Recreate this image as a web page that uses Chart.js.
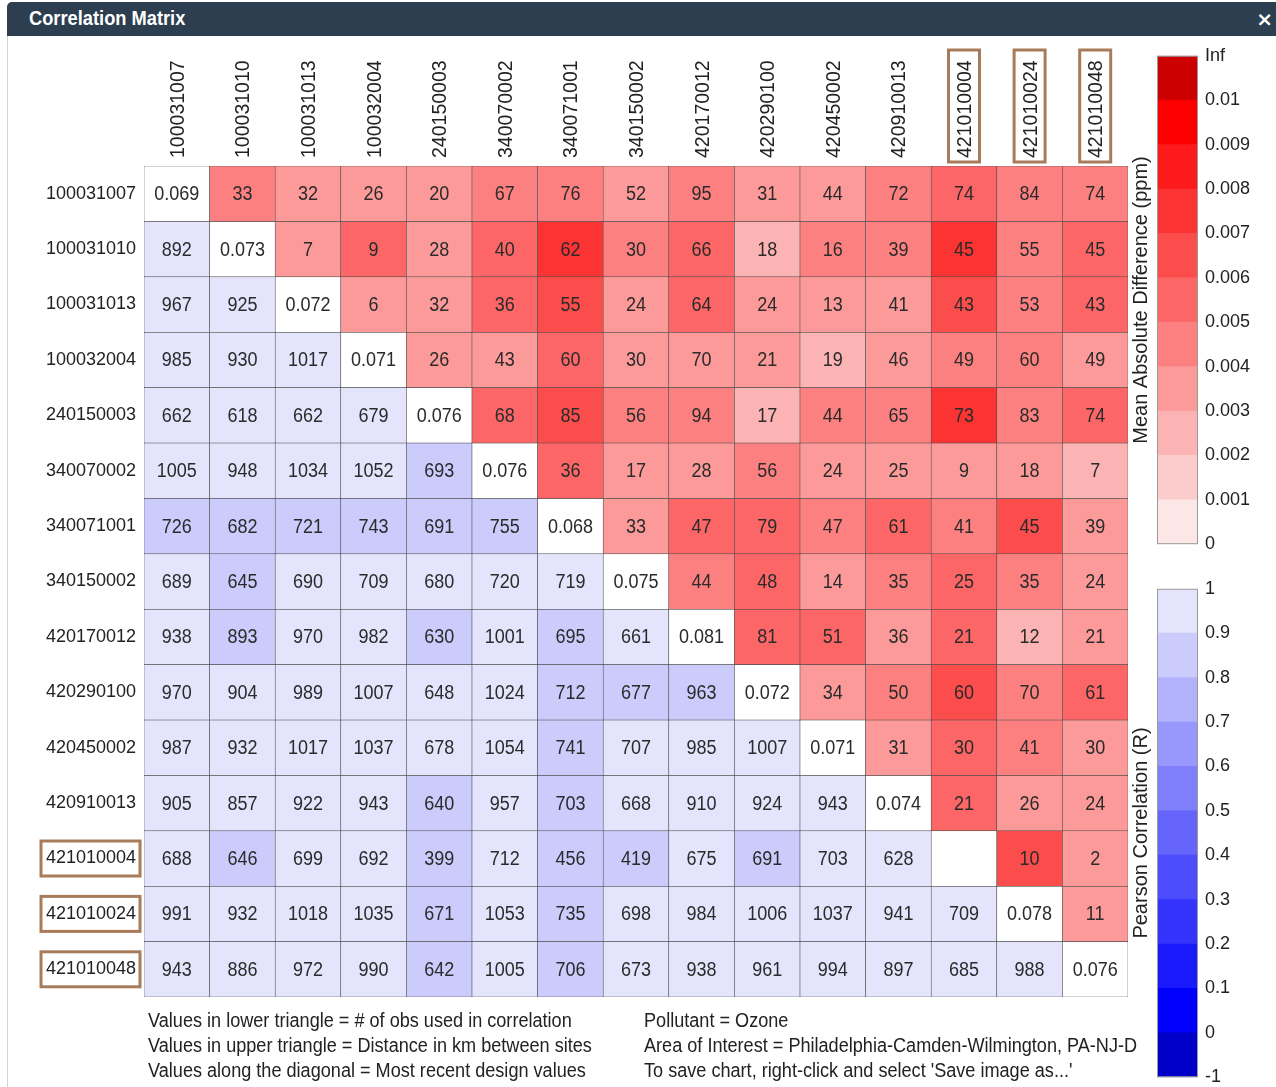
<!DOCTYPE html>
<html>
<head>
<meta charset="utf-8">
<title>Correlation Matrix</title>
<script src="https://cdn.jsdelivr.net/npm/chart.js@4.4.1/dist/chart.umd.min.js"></script>
<style>
  html, body { margin: 0; padding: 0; background: #fff; }
  body { width: 1276px; height: 1087px; position: relative; overflow: hidden;
         font-family: "Liberation Sans", Arial, sans-serif; }
  #frame { position: absolute; left: 7px; top: 2px; width: 1280px; height: 1100px;
           border: 1px solid #cfd3d7; border-radius: 5px 0 0 0; }
  #head { position: absolute; left: 7px; top: 2px; right: 0; height: 34px;
          background: #2c3e50; border-radius: 5px 0 0 0; z-index: 2; }
  #head .t { position: absolute; left: 22px; top: 4px; color: #fff; font: bold 21px "Liberation Sans", Arial, sans-serif;
             transform: scaleX(.87); transform-origin: left center; white-space: nowrap; }
  #head .x { position: absolute; right: 3px; top: 5px; color: #fff; font: bold 20px "DejaVu Sans", sans-serif; }
  canvas { position: absolute; }
  #matrix { left: 0; top: 0; }
  #cbMad { left: 1110px; top: 38px; }
  #cbR { left: 1110px; top: 571px; }
  .note { position: absolute; top: 1008px; font-size: 20px; line-height: 25px; color: #222;
          transform: scaleX(.905); transform-origin: left top; white-space: nowrap; }
</style>
</head>
<body>
<div id="frame"></div>
<div id="head"><span class="t">Correlation Matrix</span><span class="x">×</span></div>
<canvas id="matrix" width="1150" height="1087"></canvas>
<canvas id="cbMad" width="166" height="524"></canvas>
<canvas id="cbR" width="166" height="524"></canvas>
<div class="note" style="left:148px">Values in lower triangle = # of obs used in correlation<br>Values in upper triangle = Distance in km between sites<br>Values along the diagonal = Most recent design values</div>
<div class="note" style="left:644px">Pollutant = Ozone<br>Area of Interest = Philadelphia-Camden-Wilmington, PA-NJ-D<br>To save chart, right-click and select 'Save image as...'</div>

<script>
/* ── 사이트 ── */
const SITES = ['100031007','100031010','100031013','100032004','240150003','340070002','340071001',
  '340150002','420170012','420290100','420450002','420910013','421010004','421010024','421010048'];
const HIGHLIGHT_SITES = ['421010004','421010024','421010048'];

/* ── 대각선: 최근 design value ── */
const DESIGN_VALUES = [0.069,0.073,0.072,0.071,0.076,0.076,0.068,0.075,0.081,0.072,0.071,0.074,null,0.078,0.076];

/* ── 위 삼각형: 사이트 간 거리(km), row i → col i+1.. ── */
const DISTANCE_KM = [
  [33,32,26,20,67,76,52,95,31,44,72,74,84,74],
  [7,9,28,40,62,30,66,18,16,39,45,55,45],
  [6,32,36,55,24,64,24,13,41,43,53,43],
  [26,43,60,30,70,21,19,46,49,60,49],
  [68,85,56,94,17,44,65,73,83,74],
  [36,17,28,56,24,25,9,18,7],
  [33,47,79,47,61,41,45,39],
  [44,48,14,35,25,35,24],
  [81,51,36,21,12,21],
  [34,50,60,70,61],
  [31,30,41,30],
  [21,26,24],
  [10,2],
  [11],
  []
];

/* ── 위 삼각형 색: Mean Absolute Difference (ppm) ── */
const MAD_PPM = [
  [.0048,.0038,.0035,.0033,.0046,.0044,.0035,.0043,.0034,.0035,.0043,.0058,.0044,.0042],
  [.0035,.0052,.0037,.0056,.0072,.0042,.0054,.0022,.0043,.0043,.0078,.0044,.0056],
  [.0038,.0038,.0052,.0062,.0034,.0054,.0036,.0034,.0033,.0066,.0043,.0052],
  [.0033,.0036,.0053,.0038,.0036,.0034,.0022,.0036,.0043,.0043,.0036],
  [.0056,.0068,.0046,.0047,.0022,.0047,.0042,.0077,.0043,.0056],
  [.0053,.0034,.0036,.0046,.0033,.0035,.0031,.0034,.0022],
  [.0035,.0054,.0054,.0043,.0054,.0045,.0066,.0036],
  [.0042,.0052,.0034,.0045,.0056,.0047,.0036],
  [.0052,.0051,.0036,.0054,.0022,.0036],
  [.0034,.0043,.0068,.0047,.0057],
  [.0035,.0054,.0044,.0036],
  [.0055,.0036,.0036],
  [.0066,.0036],
  [.0036],
  []
];

/* ── 아래 삼각형: 상관계산에 쓰인 관측 수, row i → col 0..i-1 ── */
const N_OBS = [
  [],
  [892],
  [967,925],
  [985,930,1017],
  [662,618,662,679],
  [1005,948,1034,1052,693],
  [726,682,721,743,691,755],
  [689,645,690,709,680,720,719],
  [938,893,970,982,630,1001,695,661],
  [970,904,989,1007,648,1024,712,677,963],
  [987,932,1017,1037,678,1054,741,707,985,1007],
  [905,857,922,943,640,957,703,668,910,924,943],
  [688,646,699,692,399,712,456,419,675,691,703,628],
  [991,932,1018,1035,671,1053,735,698,984,1006,1037,941,709],
  [943,886,972,990,642,1005,706,673,938,961,994,897,685,988]
];

/* ── 아래 삼각형 색: Pearson R ── */
const PEARSON_R = [
  [],
  [.95],
  [.95,.95],
  [.95,.95,.95],
  [.94,.94,.94,.94],
  [.95,.95,.95,.95,.85],
  [.86,.87,.88,.87,.87,.87],
  [.93,.85,.93,.93,.92,.92,.91],
  [.93,.86,.93,.93,.85,.93,.85,.92],
  [.92,.91,.92,.92,.91,.92,.86,.85,.83],
  [.93,.92,.93,.93,.91,.93,.86,.91,.92,.92],
  [.92,.91,.92,.92,.85,.92,.86,.91,.92,.92,.93],
  [.92,.85,.92,.92,.84,.92,.85,.82,.91,.85,.91,.91],
  [.93,.92,.93,.93,.86,.93,.86,.91,.92,.92,.93,.92,.92],
  [.93,.92,.93,.93,.86,.93,.86,.91,.92,.92,.93,.92,.92,.93]
];

/* ── 컬러바 눈금 ── */
const MAD_TICKS = ['Inf','0.01','0.009','0.008','0.007','0.006','0.005','0.004','0.003','0.002','0.001','0'];
const R_TICKS = ['1','0.9','0.8','0.7','0.6','0.5','0.4','0.3','0.2','0.1','0','-1'];

/* ── 색 ── */
const TXT = '#222';
const CELL_TXT = '#2b2b2b';
const CELL_LINE = '#4d4d4d';
const BOX = '#a87c5a';
Chart.defaults.font.family = '"Liberation Sans", Arial, sans-serif';

function madColor(v){
  if (v >= 0.01) return '#cc0000';
  const k = Math.min(9, Math.floor(v / 0.001));
  const g = Math.round(230 * (1 - k / 9));
  return `rgb(252,${g},${g})`;
}
function rColor(r){
  if (r < 0) return '#0000c8';
  const k = Math.min(9, Math.floor(r * 10));
  const c = Math.round(228 * k / 9);
  return `rgb(${c},${c},252)`;
}

function cellColor(i, j){
  if (i === j) return '#ffffff';
  if (i < j) return madColor(MAD_PPM[i][j - i - 1]);
  return rColor(PEARSON_R[i][j]);
}
function cellLabel(i, j){
  if (i === j) return DESIGN_VALUES[i] == null ? '' : DESIGN_VALUES[i].toFixed(3);
  if (i < j) return String(DISTANCE_KM[i][j - i - 1]);
  return String(N_OBS[i][j]);
}

/* ── 셀 숫자 ── */
const cellText = {
  id: 'cellText',
  afterDatasetsDraw(chart){
    const ctx = chart.ctx;
    ctx.save();
    ctx.font = '20px "Liberation Sans", Arial, sans-serif';
    ctx.fillStyle = CELL_TXT;
    ctx.textAlign = 'center';
    ctx.textBaseline = 'middle';
    chart.data.datasets.forEach((ds, i) => {
      chart.getDatasetMeta(i).data.forEach((bar, j) => {
        const t = cellLabel(i, j);
        if (!t) return;
        ctx.save();
        ctx.translate(bar.x, (bar.y + bar.base) / 2 + 1);
        ctx.scale(0.9, 1);
        ctx.fillText(t, 0, 0);
        ctx.restore();
      });
    });
    ctx.restore();
  }
};

/* ── 강조 사이트 라벨 박스 ── */
const labelBoxes = {
  id: 'labelBoxes',
  afterDraw(chart){
    const { ctx, chartArea, scales: { x, y } } = chart;
    ctx.save();
    ctx.strokeStyle = BOX;
    ctx.lineWidth = 3;
    HIGHLIGHT_SITES.forEach(site => {
      const k = SITES.indexOf(site);
      const cx = x.getPixelForValue(k);
      ctx.strokeRect(cx - 15.5, 50, 31, chartArea.top - 4 - 50);
      const cy = (y.getPixelForValue(k) + y.getPixelForValue(k + 1)) / 2;
      ctx.strokeRect(41, cy - 17.5, chartArea.left - 4 - 41, 35);
    });
    ctx.restore();
  }
};

/* ── 매트릭스 ── */
new Chart(document.getElementById('matrix'), {
  type: 'bar',
  data: {
    labels: SITES,
    datasets: SITES.map((site, i) => ({
      label: site,
      data: SITES.map(() => 1),
      backgroundColor: c => cellColor(i, c.dataIndex),
      borderColor: CELL_LINE,
      borderWidth: 0.6,
      borderSkipped: false,
      barPercentage: 1,
      categoryPercentage: 1
    }))
  },
  options: {
    responsive: false,
    animation: false,
    events: [],
    layout: { padding: { left: 0, top: 40, right: 22, bottom: 90 } },
    plugins: { legend: { display: false }, tooltip: { enabled: false } },
    scales: {
      x: {
        position: 'top', stacked: true,
        grid: { display: false, drawTicks: false }, border: { display: false },
        ticks: { autoSkip: false, maxRotation: 90, minRotation: 90, padding: 8, labelOffset: 25,
                 color: TXT, font: { size: 19.5 } },
        afterFit: s => { s.height = 126; }
      },
      y: {
        stacked: true, reverse: true, min: 0, max: SITES.length,
        grid: { display: false, drawTicks: false }, border: { display: false },
        afterBuildTicks: s => { s.ticks = SITES.map((_, i) => ({ value: i + 0.5 })); },
        ticks: { padding: 8, color: TXT, font: { size: 18 }, callback: (v, i) => SITES[i] },
        afterFit: s => { s.width = 144; }
      }
    }
  },
  plugins: [cellText, labelBoxes]
});

/* ── 컬러바 ── */
const outline = {
  id: 'outline',
  afterDatasetsDraw(chart){
    const { ctx, chartArea: a } = chart;
    ctx.save();
    ctx.strokeStyle = '#9a9a9a';
    ctx.lineWidth = 1;
    ctx.strokeRect(a.left + 0.5, a.top + 0.5, a.right - a.left - 1, a.bottom - a.top - 1);
    ctx.restore();
  }
};

function colorbar(id, colors, tickLabels, title){
  const n = colors.length;
  return new Chart(document.getElementById(id), {
    type: 'bar',
    data: {
      labels: [''],
      datasets: colors.map(c => ({ data: [1], backgroundColor: c, borderWidth: 0,
        barPercentage: 1, categoryPercentage: 1 }))
    },
    options: {
      responsive: false,
      animation: false,
      events: [],
      layout: { padding: { top: 12, bottom: 12, left: 0, right: 0 } },
      plugins: { legend: { display: false }, tooltip: { enabled: false } },
      scales: {
        x: { stacked: true, display: false },
        y: {
          stacked: true, position: 'right', min: 0, max: n,
          grid: { display: false, drawTicks: false }, border: { display: false },
          afterBuildTicks: s => { s.ticks = tickLabels.map((_, v) => ({ value: v })); },
          ticks: { padding: 7, color: TXT, font: { size: 18 }, callback: (v, i) => tickLabels[n - i] },
          afterFit: s => { s.width = 78; }
        },
        t: {
          type: 'linear', axis: 'y', position: 'left',
          grid: { display: false, drawTicks: false }, border: { display: false },
          ticks: { display: false },
          title: { display: true, text: title, color: TXT, font: { size: 20 }, padding: { top: 19, bottom: 0 } },
          afterFit: s => { s.width = 47; }
        }
      }
    },
    plugins: [outline]
  });
}

// 아래→위 순서로 밴드 색
const MAD_BANDS = MAD_TICKS.slice(1).reverse().map((t, k) =>
  k < 10 ? madColor(k * 0.001 + 0.0005) : madColor(Infinity));
const R_BANDS = R_TICKS.slice(1).reverse().map((t, k) =>
  k === 0 ? rColor(-0.5) : rColor((k - 1) / 10 + 0.05));

colorbar('cbMad', MAD_BANDS, MAD_TICKS, 'Mean Absolute Difference (ppm)');
colorbar('cbR', R_BANDS, R_TICKS, 'Pearson Correlation (R)');
</script>
</body>
</html>
